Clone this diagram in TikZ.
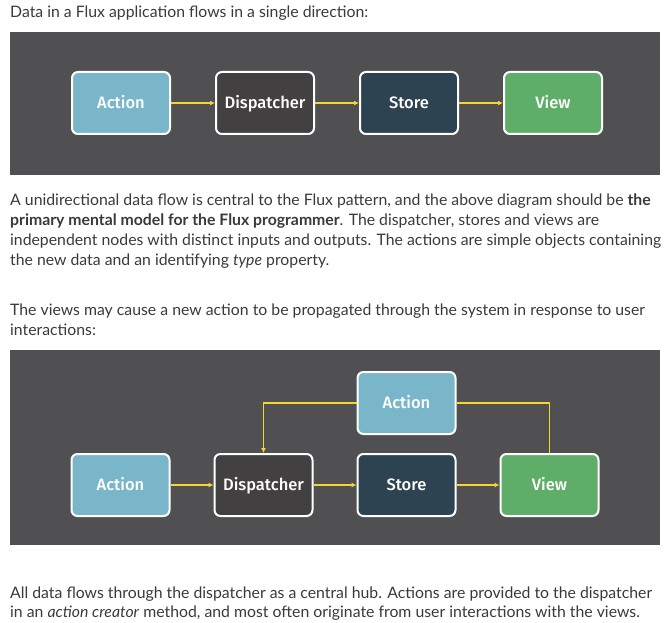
\documentclass[tikz,border=0pt]{standalone}
\usepackage{fontspec}
\setmainfont{Lato}
\newfontfamily\boxfont{Fira Sans Medium}
\usetikzlibrary{arrows.meta}
\definecolor{panel}{HTML}{505052}
\definecolor{fluxblue}{HTML}{79B6C9}
\definecolor{fluxdark}{HTML}{434041}
\definecolor{fluxnavy}{HTML}{2D4351}
\definecolor{fluxgreen}{HTML}{5EAE69}
\definecolor{fluxyellow}{HTML}{F4D531}
\definecolor{textgrey}{HTML}{3A3A3A}
\begin{document}
\begin{tikzpicture}[x=1pt,y=-1pt,
  flux/.style={draw=white,line width=2pt,rounded corners=6pt,minimum width=98pt,minimum height=62pt,
    text=white,text height=11.5pt,text depth=0pt,font=\boxfont\fontsize{16.5}{18}\selectfont},
  wire/.style={draw=fluxyellow,line width=1.5pt},
  flow/.style={wire,-{Latex[length=5pt,width=5pt]}},
  txt/.style={anchor=base west,inner sep=0pt,text=textgrey,font=\fontsize{15.8}{20}\selectfont}]
  \useasboundingbox (0,0) rectangle (669,623);
  % two dark panels
  \fill[panel] (10,32) rectangle (660,175);
  \fill[panel] (10,350) rectangle (660,545);
  % the four stages, once per panel
  \foreach \n/\lab/\col [count=\i from 0] in {act/Action/fluxblue,disp/Dispatcher/fluxdark,store/Store/fluxnavy,view/View/fluxgreen}{
    \node[flux,fill=\col] (\n1) at ({121+144*\i},103) {\lab};
    \node[flux,fill=\col] (\n2) at ({120.5+143*\i},485) {\lab};
  }
  \foreach \a/\b in {act/disp,disp/store,store/view}{
    \draw[flow] (\a1) -- (\b1);
    \draw[flow] (\a2) -- (\b2);
  }
  % new action raised by the view
  \node[flux,fill=fluxblue] (actTop) at (406.5,403) {Action};
  \draw[wire] (view2.north) |- (actTop.east);
  \draw[flow] (actTop.west) -| (disp2.north);
  % text
  \node[txt] (intro) at (10,18) {Data in a Flux application flows in a single direction:};
  \node[txt] (pa1) at (10,205) {A unidirectional data flow is central to the Flux pattern, and the above diagram should be \textbf{the}};
  \node[txt] (pa2) at (10,225) {\textbf{primary mental model for the Flux programmer}. The dispatcher, stores and views are};
  \node[txt] (pa3) at (10,245) {independent nodes with distinct inputs and outputs. The actions are simple objects containing};
  \node[txt] (pa4) at (10,265) {the new data and an identifying \textit{type} property.};
  \node[txt] (pb1) at (10,315) {The views may cause a new action to be propagated through the system in response to user};
  \node[txt] (pb2) at (10,335) {interactions:};
  \node[txt] (pc1) at (10,598) {All data flows through the dispatcher as a central hub. Actions are provided to the dispatcher};
  \node[txt] (pc2) at (10,617) {in an \textit{action creator} method, and most often originate from user interactions with the views.};
\end{tikzpicture}
\end{document}
